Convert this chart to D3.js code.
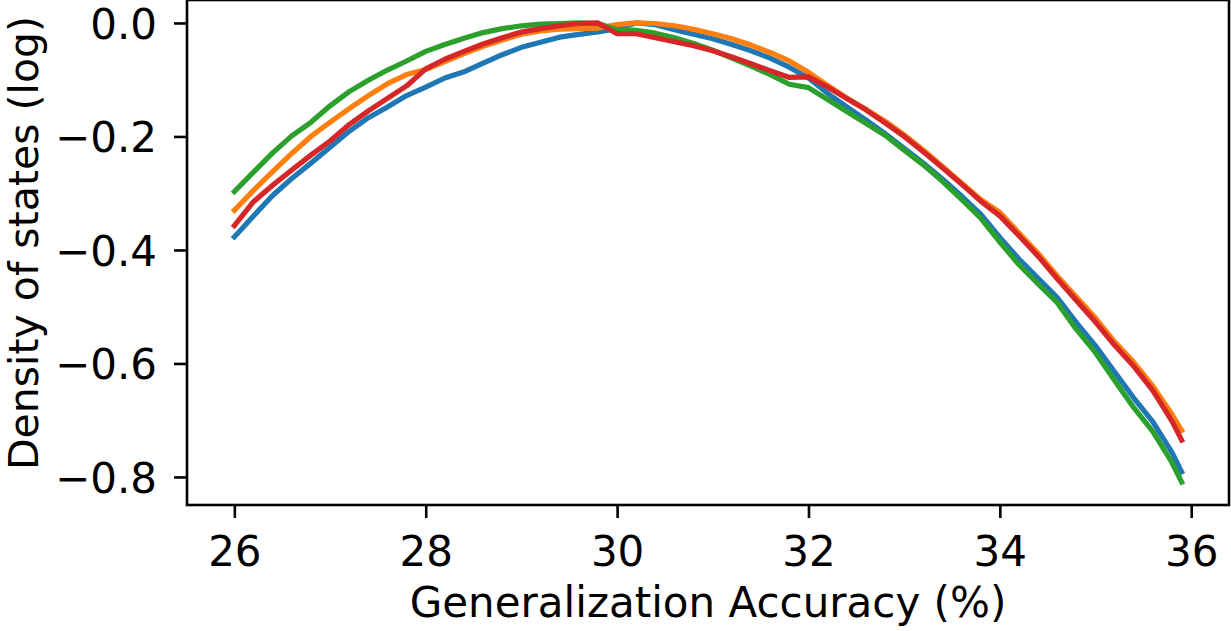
<!DOCTYPE html>
<html>
<head>
<meta charset="utf-8">
<script src="https://cdn.jsdelivr.net/npm/d3@7"></script>
<style>
    html, body { margin: 0; padding: 0; background: #fff; }
    #chart { width: 1231px; height: 631px; }
    text { font-family: "DejaVu Sans", sans-serif; fill: #000; }
</style>
</head>
<body>
<div id="chart"></div>
<script>
// density-of-states.js

// Generalization accuracy (%) at each sampled point
const accuracy = [
    26.0, 26.2, 26.4, 26.6, 26.8, 27.0, 27.2, 27.4, 27.6, 27.8,
    28.0, 28.2, 28.4, 28.6, 28.8, 29.0, 29.2, 29.4, 29.6, 29.8,
    30.0, 30.2, 30.4, 30.6, 30.8, 31.0, 31.2, 31.4, 31.6, 31.8,
    32.0, 32.2, 32.4, 32.6, 32.8, 33.0, 33.2, 33.4, 33.6, 33.8,
    34.0, 34.2, 34.4, 34.6, 34.8, 35.0, 35.2, 35.4, 35.6, 35.8, 35.9
];

// log density of states, one list per run
const runBlue = [
    -0.377, -0.340, -0.304, -0.274, -0.247, -0.219, -0.191, -0.167, -0.148, -0.128,
    -0.113, -0.097, -0.086, -0.071, -0.056, -0.043, -0.034, -0.025, -0.020, -0.016,
    -0.010, 0.000, -0.003, -0.012, -0.020, -0.028, -0.038, -0.049, -0.062, -0.078,
    -0.097, -0.124, -0.148, -0.171, -0.195, -0.221, -0.247, -0.275, -0.305, -0.337,
    -0.378, -0.416, -0.450, -0.484, -0.528, -0.569, -0.615, -0.661, -0.703, -0.757, -0.791
];
const runOrange = [
    -0.330, -0.295, -0.262, -0.230, -0.200, -0.175, -0.151, -0.128, -0.107, -0.091,
    -0.082, -0.068, -0.054, -0.041, -0.030, -0.020, -0.014, -0.011, -0.010, -0.009,
    -0.003, 0.000, -0.001, -0.005, -0.011, -0.019, -0.028, -0.039, -0.052, -0.067,
    -0.087, -0.110, -0.132, -0.152, -0.173, -0.197, -0.224, -0.253, -0.282, -0.311,
    -0.334, -0.370, -0.406, -0.446, -0.483, -0.520, -0.562, -0.598, -0.640, -0.690, -0.718
];
const runGreen = [
    -0.297, -0.263, -0.229, -0.199, -0.175, -0.146, -0.121, -0.101, -0.083, -0.067,
    -0.050, -0.038, -0.027, -0.017, -0.010, -0.005, -0.002, -0.001, 0.000, -0.001,
    -0.012, -0.013, -0.018, -0.026, -0.036, -0.048, -0.062, -0.076, -0.091, -0.108,
    -0.114, -0.135, -0.156, -0.177, -0.198, -0.224, -0.250, -0.279, -0.311, -0.344,
    -0.386, -0.426, -0.460, -0.493, -0.540, -0.581, -0.630, -0.678, -0.720, -0.775, -0.809
];
const runRed = [
    -0.357, -0.315, -0.286, -0.259, -0.233, -0.208, -0.179, -0.155, -0.133, -0.111,
    -0.081, -0.064, -0.050, -0.037, -0.026, -0.016, -0.010, -0.005, -0.001, 0.000,
    -0.019, -0.019, -0.026, -0.033, -0.040, -0.049, -0.060, -0.072, -0.084, -0.096,
    -0.095, -0.113, -0.133, -0.153, -0.176, -0.200, -0.227, -0.255, -0.284, -0.314,
    -0.340, -0.375, -0.411, -0.451, -0.489, -0.527, -0.568, -0.605, -0.648, -0.702, -0.735
];

// tick values for both axes
const xTicks = [26, 28, 30, 32, 34, 36];
const yTicks = [0.0, -0.2, -0.4, -0.6, -0.8];

// series in drawing order (last one ends up on top)
const runs = [runBlue, runOrange, runGreen, runRed];
const runColors = ["#1f77b4", "#ff7f0e", "#2ca02c", "#d62728"];

function createChart() {
    const W = 1231, H = 631;
    const plot = { left: 187, right: 1229, top: 0, bottom: 505 };

    const svg = d3.select("#chart")
        .append("svg")
        .attr("width", W)
        .attr("height", H);

    // matplotlib style 5% margins around the data
    const xMin = d3.min(accuracy), xMax = d3.max(accuracy);
    const yMin = d3.min(runs.flat()), yMax = d3.max(runs.flat());
    const xPad = (xMax - xMin) * 0.05, yPad = (yMax - yMin) * 0.05;

    const x = d3.scaleLinear()
        .domain([xMin - xPad, xMax + xPad])
        .range([plot.left, plot.right]);
    const y = d3.scaleLinear()
        .domain([yMin - yPad, yMax + yPad])
        .range([plot.bottom, plot.top]);

    const line = d3.line()
        .x((d, i) => x(accuracy[i]))
        .y(d => y(d));

    // clip the curves to the axes box
    svg.append("clipPath").attr("id", "plotClip")
        .append("rect")
        .attr("x", plot.left).attr("y", plot.top)
        .attr("width", plot.right - plot.left)
        .attr("height", plot.bottom - plot.top);

    svg.append("g")
        .attr("clip-path", "url(#plotClip)")
        .selectAll("path")
        .data(runs)
        .enter()
        .append("path")
        .attr("d", line)
        .attr("fill", "none")
        .attr("stroke", (d, i) => runColors[i])
        .attr("stroke-width", 5.2)
        .attr("stroke-linejoin", "round")
        .attr("stroke-linecap", "square");

    // x axis
    const xAxis = svg.append("g")
        .attr("transform", `translate(0, ${plot.bottom})`)
        .call(d3.axisBottom(x).tickValues(xTicks).tickSize(13).tickPadding(0).tickFormat(d3.format("d")));
    xAxis.select(".domain").remove();
    xAxis.selectAll(".tick line").attr("stroke", "#000").attr("stroke-width", 2.6);
    xAxis.selectAll(".tick text")
        .attr("y", 61)
        .attr("dy", null)
        .style("font-size", "42px")
        .style("font-family", "DejaVu Sans");

    // y axis
    const yAxis = svg.append("g")
        .attr("transform", `translate(${plot.left}, 0)`)
        .call(d3.axisLeft(y).tickValues(yTicks).tickSize(13).tickPadding(0)
            .tickFormat(d => d3.format(".1f")(d).replace("-", "\u2212")));
    yAxis.select(".domain").remove();
    yAxis.selectAll(".tick line").attr("stroke", "#000").attr("stroke-width", 2.6);
    yAxis.selectAll(".tick text")
        .attr("x", -30)
        .attr("dy", "15.5")
        .style("font-size", "42px")
        .style("font-family", "DejaVu Sans");

    // axes frame
    svg.append("rect")
        .attr("x", plot.left)
        .attr("y", plot.top)
        .attr("width", plot.right - plot.left)
        .attr("height", plot.bottom - plot.top)
        .attr("fill", "none")
        .attr("stroke", "#000")
        .attr("stroke-width", 2.6);

    // axis titles
    svg.append("text")
        .attr("x", (plot.left + plot.right) / 2)
        .attr("y", 617)
        .attr("text-anchor", "middle")
        .style("font-size", "42px")
        .text("Generalization Accuracy (%)");

    svg.append("text")
        .attr("transform", "translate(38, 243) rotate(-90)")
        .attr("text-anchor", "middle")
        .style("font-size", "41px")
        .text("Density of states (log)");
}

document.addEventListener("DOMContentLoaded", function () {
    createChart();
});
</script>
</body>
</html>
